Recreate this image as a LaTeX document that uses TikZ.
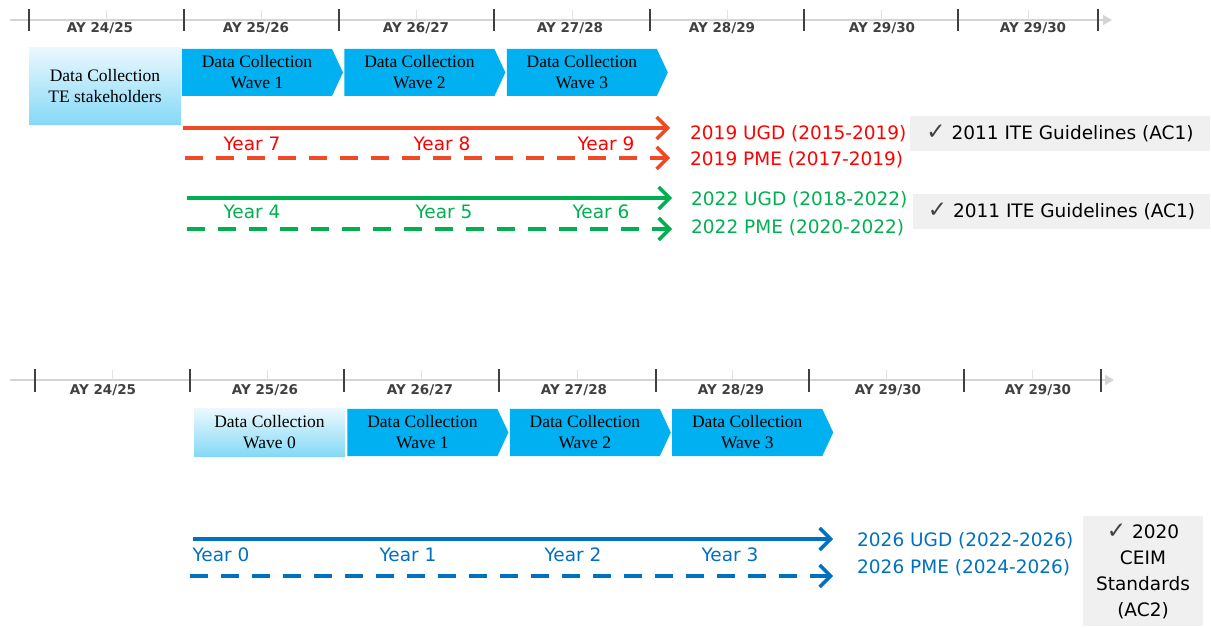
\documentclass[tikz,border=0pt]{standalone}
\usepackage{fontspec}
\setmainfont{Liberation Serif}
\newfontfamily\sansfont{DejaVu Sans}
\usetikzlibrary{
    positioning,    % For placing nodes relative to each other
    arrows.meta,    % For the open arrow tips
    shapes.symbols  % For the signal (chevron) shape
}

\definecolor{tickgray}{HTML}{404040}
\definecolor{linegray}{HTML}{D4D4D4}
\definecolor{wavecyan}{HTML}{00B0F0}
\definecolor{paleblue}{HTML}{EAF8FE}
\definecolor{skyblue}{HTML}{84D9F7}
\definecolor{arrowred}{HTML}{F04A24}
\definecolor{textred}{HTML}{FF0000}
\definecolor{cohortgreen}{HTML}{00B050}
\definecolor{cohortblue}{HTML}{0070C0}
\definecolor{boxgray}{HTML}{F0F0F0}

\newcommand{\tick}{{\fontsize{23}{26}\selectfont\textcolor{tickgray}{✓}}}

\begin{document}
\begin{tikzpicture}[
    x=1pt, y=-1pt,
    % Style for the academic year axis
    axis_line/.style={
        draw=linegray,
        line width=1.5pt
    },
    major_tick/.style={
        draw=tickgray,
        line width=1.5pt
    },
    minor_tick/.style={
        draw=linegray!70,
        line width=0.8pt
    },
    ay_label/.style={
        font=\sansfont\bfseries\fontsize{13.5}{15}\selectfont,
        text=tickgray
    },
    % Style for the data collection waves (chevrons)
    wave_box/.style={
        signal, signal to=east, signal pointer angle=130,
        fill=wavecyan,
        minimum width=161pt, minimum height=47pt,
        inner sep=0pt, align=center,
        font=\fontsize{17.5}{21}\selectfont
    },
    % Style for the first, shaded data collection box
    start_box/.style={
        rectangle, top color=paleblue, bottom color=skyblue,
        inner sep=0pt, align=center,
        font=\fontsize{17.5}{21}\selectfont
    },
    % Style for the year labels under the cohort arrows
    year_label/.style={
        font=\sansfont\fontsize{18.5}{22}\selectfont,
        inner sep=0pt
    },
    % Style for the cohort names at the arrow heads
    cohort_label/.style={
        font=\sansfont\fontsize{18.5}{22}\selectfont,
        anchor=west, inner sep=0pt
    },
    % Style for the grey standards boxes
    check_box/.style={
        fill=boxgray, inner sep=0pt, align=center,
        font=\sansfont\fontsize{18.5}{26}\selectfont
    },
    % Style for arrowheads
    arrow_tip/.style={
        -{Straight Barb[length=11pt, width=22pt]}
    },
    solid_arrow/.style={
        line width=3.5pt, arrow_tip
    },
    dashed_arrow/.style={
        line width=3.5pt, arrow_tip,
        dash pattern=on 18pt off 13pt
    }
]
    \useasboundingbox (0,0) rectangle (1211,628);

    % 1. Upper academic year axis.
    \coordinate (top_start) at (10,20);
    \coordinate (top_end) at (1112,20);
    \draw[axis_line, -{Triangle[length=9pt, width=10pt]}] (top_start) -- (top_end);
    \foreach \x in {29,184,339,494,650,804,958,1098}
        \draw[major_tick] (\x,9) -- (\x,31);
    \foreach \x in {106,261,416,572,727,881,1028}
        \draw[minor_tick] (\x,10) -- (\x,20);
    \foreach \x/\a/\b in {100/24/25, 256/25/26, 416/26/27, 570/27/28, 722/28/29, 882/29/30, 1033/29/30}
        \node[ay_label] (top_ay_\a) at (\x,28) {AY \a/\b};

    % 2. Upper data collection waves.
    \node[start_box, minimum width=152pt, minimum height=77pt] (te_box) at (105,86.5)
        {Data Collection\\TE stakeholders};
    \node[wave_box] (top_wave_1) at (257,72.5) {Data Collection\\Wave 1};
    \node[wave_box, right=1pt of top_wave_1] (top_wave_2) {Data Collection\\Wave 2};
    \node[wave_box, right=1pt of top_wave_2] (top_wave_3) {Data Collection\\Wave 3};

    % 3. 2019 cohort (red).
    \coordinate (red_ugd_start) at (183,128);
    \coordinate (red_ugd_end) at (670,128);
    \coordinate (red_pme_start) at (185,158);
    \coordinate (red_pme_end) at (670,158);
    \draw[solid_arrow, arrowred] (red_ugd_start) -- (red_ugd_end);
    \draw[dashed_arrow, arrowred] (red_pme_start) -- (red_pme_end);
    \node[year_label, text=textred] (year_7) at (252,144) {Year 7};
    \node[year_label, text=textred] (year_8) at (442,144) {Year 8};
    \node[year_label, text=textred] (year_9) at (606,144) {Year 9};
    \node[cohort_label, text=textred] (ugd_19) at (690,134) {2019 UGD (2015-2019)};
    \node[cohort_label, text=textred] (pme_19) at (690,160) {2019 PME (2017-2019)};
    \node[check_box, minimum width=300pt, minimum height=35pt] (guide_19) at (1060,133.5)
        {\tick\ 2011 ITE Guidelines (AC1)};

    % 4. 2022 cohort (green).
    \coordinate (green_ugd_start) at (187,198);
    \coordinate (green_ugd_end) at (672,198);
    \coordinate (green_pme_start) at (187,229);
    \coordinate (green_pme_end) at (672,229);
    \draw[solid_arrow, cohortgreen] (green_ugd_start) -- (green_ugd_end);
    \draw[dashed_arrow, cohortgreen] (green_pme_start) -- (green_pme_end);
    \node[year_label, text=cohortgreen] (year_4) at (252,212) {Year 4};
    \node[year_label, text=cohortgreen] (year_5) at (444,212) {Year 5};
    \node[year_label, text=cohortgreen] (year_6) at (601,212) {Year 6};
    \node[cohort_label, text=cohortgreen] (ugd_22) at (691,200) {2022 UGD (2018-2022)};
    \node[cohort_label, text=cohortgreen] (pme_22) at (691,228) {2022 PME (2020-2022)};
    \node[check_box, minimum width=297pt, minimum height=35pt] (guide_22) at (1061.5,211.5)
        {\tick\ 2011 ITE Guidelines (AC1)};

    % 5. Lower academic year axis.
    \coordinate (low_start) at (10,380);
    \coordinate (low_end) at (1114,380);
    \draw[axis_line, -{Triangle[length=9pt, width=10pt]}] (low_start) -- (low_end);
    \foreach \x in {35,190,344,499,656,809,964,1101}
        \draw[major_tick] (\x,369) -- (\x,392);
    \foreach \x in {112,267,421,577,732,886,1032}
        \draw[minor_tick] (\x,370) -- (\x,380);
    \foreach \x/\a/\b in {103/24/25, 265/25/26, 420/26/27, 574/27/28, 731/28/29, 888/29/30, 1038/29/30}
        \node[ay_label] (low_ay_\a) at (\x,390) {AY \a/\b};

    % 6. Lower data collection waves.
    \node[start_box, minimum width=151pt, minimum height=47pt] (low_wave_0) at (269.5,432.5)
        {Data Collection\\Wave 0};
    \node[wave_box, right=2pt of low_wave_0] (low_wave_1) {Data Collection\\Wave 1};
    \node[wave_box, right=1pt of low_wave_1] (low_wave_2) {Data Collection\\Wave 2};
    \node[wave_box, right=1pt of low_wave_2] (low_wave_3) {Data Collection\\Wave 3};

    % 7. 2026 cohort (blue).
    \coordinate (blue_ugd_start) at (193,539);
    \coordinate (blue_ugd_end) at (833,539);
    \coordinate (blue_pme_start) at (190,576);
    \coordinate (blue_pme_end) at (833,576);
    \draw[solid_arrow, cohortblue] (blue_ugd_start) -- (blue_ugd_end);
    \draw[dashed_arrow, cohortblue] (blue_pme_start) -- (blue_pme_end);
    \node[year_label, text=cohortblue] (year_0) at (221,555) {Year 0};
    \node[year_label, text=cohortblue] (year_1) at (408,555) {Year 1};
    \node[year_label, text=cohortblue] (year_2) at (573,555) {Year 2};
    \node[year_label, text=cohortblue] (year_3) at (730,555) {Year 3};
    \node[cohort_label, text=cohortblue] (ugd_26) at (857,541) {2026 UGD (2022-2026)};
    \node[cohort_label, text=cohortblue] (pme_26) at (857,568) {2026 PME (2024-2026)};
    \node[check_box, minimum width=120pt, minimum height=110pt] (guide_26) at (1143,571)
        {\tick\ 2020\\CEIM\\Standards\\(AC2)};

\end{tikzpicture}
\end{document}
